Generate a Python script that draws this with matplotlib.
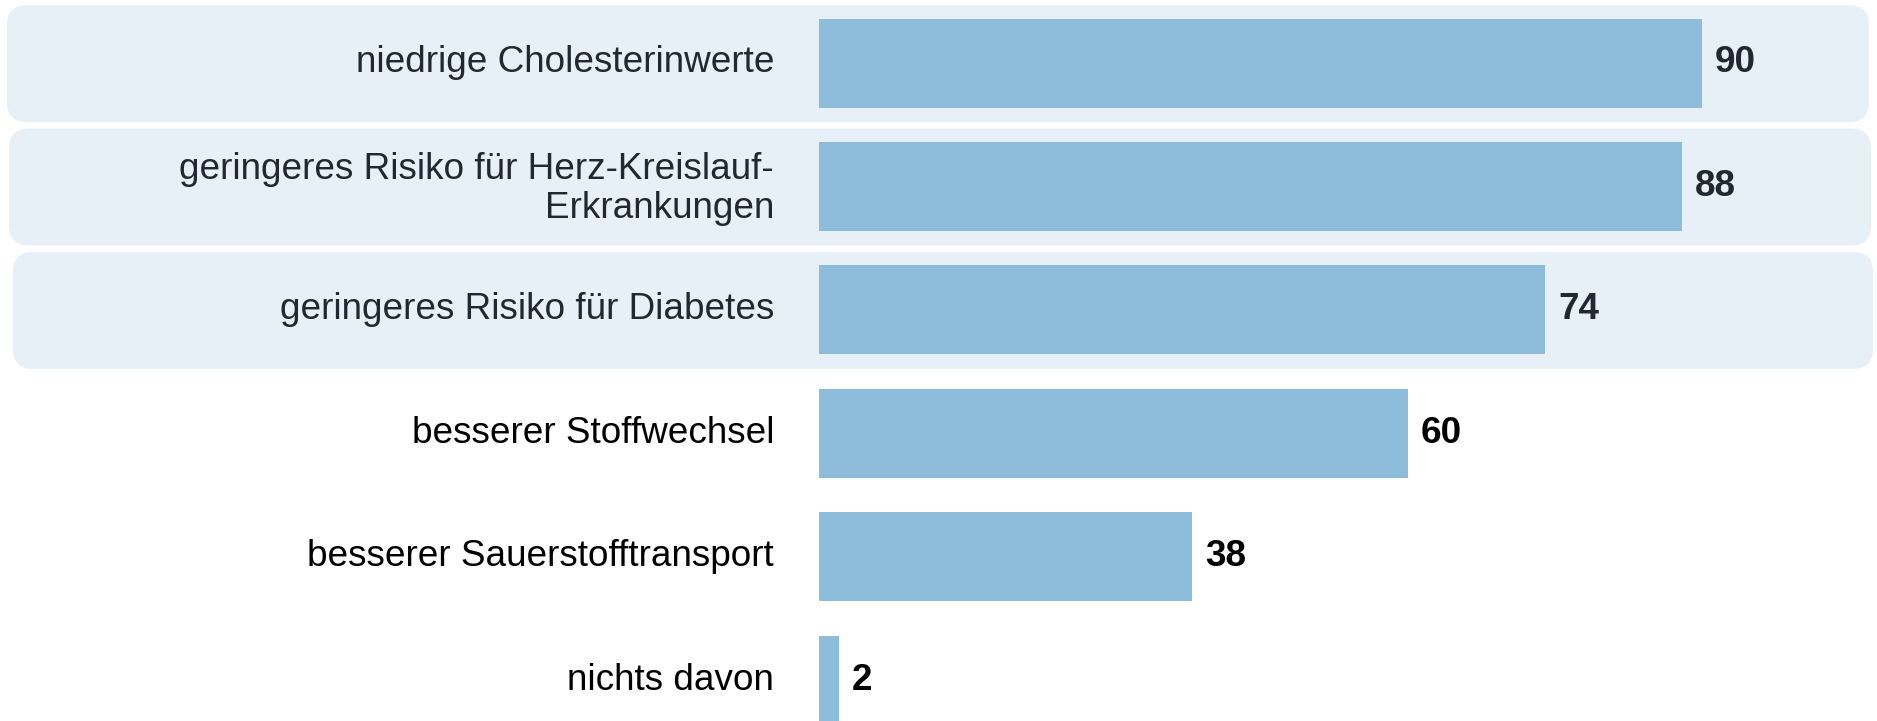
import matplotlib
matplotlib.use("Agg")
import matplotlib.pyplot as plt
from matplotlib.patches import FancyBboxPatch

categories = [
    "niedrige Cholesterinwerte",
    "geringeres Risiko für Herz-Kreislauf-\nErkrankungen",
    "geringeres Risiko für Diabetes",
    "besserer Stoffwechsel",
    "besserer Sauerstofftransport",
    "nichts davon",
]
values = [90, 88, 74, 60, 38, 2]
highlighted = [True, True, True, False, False, False]

BAR_COLOR = "#8DBDDB"
BOX_COLOR = "#E8F0F7"
DARK_TEXT = "#212831"

W, H, DPI = 1877, 721, 100
plt.rcParams["font.family"] = ["Liberation Sans", "DejaVu Sans"]

fig = plt.figure(figsize=(W / DPI, H / DPI), dpi=DPI)
ax = fig.add_axes([0, 0, 1, 1])

# pixel layout
x0_px = 819.0
px_per_unit = 9.81
y0_px = 63.0
pitch_px = 123.4

ax.set_xlim(-x0_px / px_per_unit, (W - x0_px) / px_per_unit)
ax.set_ylim((H - y0_px) / pitch_px, -y0_px / pitch_px)
ax.axis("off")

ux = 1.0 / px_per_unit   # data units per pixel in x
uy = 1.0 / pitch_px      # data units per pixel in y

# rounded background boxes
box_left_px = [7, 9, 13]
box_right_px = [1869, 1871, 1873]
box_h_px = 117
r_px = 20
bi = 0
for i, hl in enumerate(highlighted):
    if not hl:
        continue
    lx = (box_left_px[bi] - x0_px) * ux
    rx = (box_right_px[bi] - x0_px) * ux
    hy = box_h_px * uy
    p = FancyBboxPatch((lx, i - hy / 2 + 0.005), rx - lx, hy,
                       boxstyle=f"round,pad=0,rounding_size={r_px * ux}",
                       mutation_aspect=uy / ux,
                       facecolor=BOX_COLOR, edgecolor="none", zorder=0)
    ax.add_patch(p)
    bi += 1

ypos = list(range(len(categories)))
bars = ax.barh(ypos, values, height=89 * uy, color=BAR_COLOR, zorder=2)

fs = 26.6
for i, (cat, v) in enumerate(zip(categories, values)):
    col = DARK_TEXT if highlighted[i] else "black"
    multi = "\n" in cat
    ax.text(-45 * ux, i + (3 * uy if multi else 0), cat, ha="right", va="center",
            fontsize=fs, color=col, linespacing=1.15, zorder=3)
    ax.text(v + 13 * ux, i, str(v), ha="left", va="center", fontsize=fs,
            fontweight="bold", color=col, zorder=3)

fig.savefig("out.png", dpi=DPI, facecolor="white")
